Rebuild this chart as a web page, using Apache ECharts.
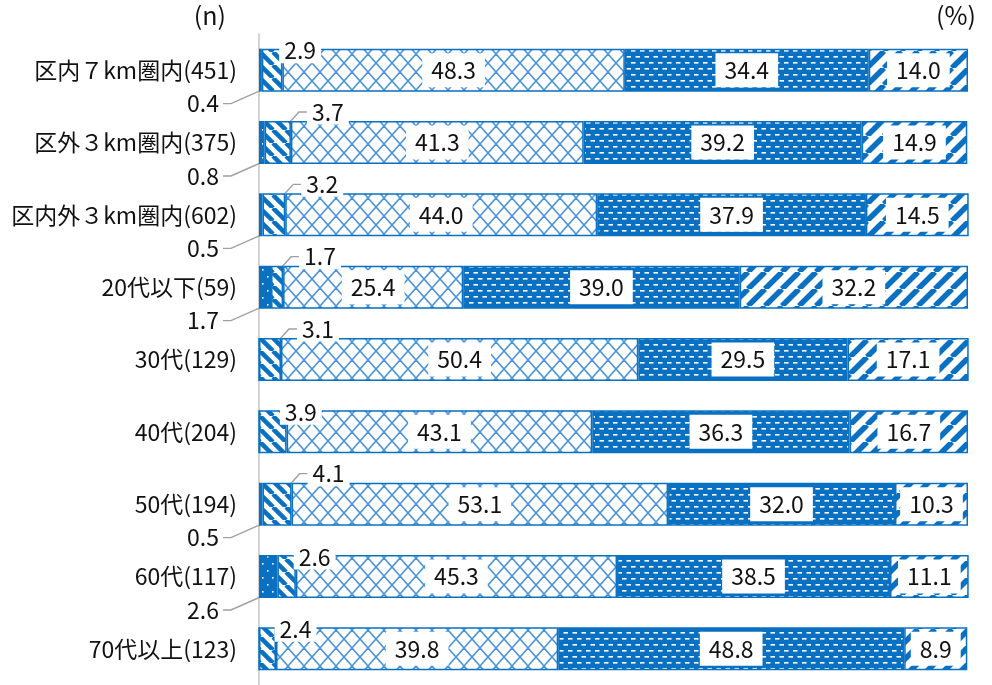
<!DOCTYPE html>
<html><head><meta charset="utf-8">
<script src="https://cdn.jsdelivr.net/npm/echarts@6/dist/echarts.min.js"></script>
<style>html,body{margin:0;padding:0;background:#fff}#c{width:992px;height:685px}</style>
</head><body><div id="c"></div>
<script>
const categories = ['区内７km圏内(451)', '区外３km圏内(375)', '区内外３km圏内(602)', '20代以下(59)', '30代(129)', '40代(204)', '50代(194)', '60代(117)', '70代以上(123)'];
const seg1 = [0.4, 0.8, 0.5, 1.7, 0, 0, 0.5, 2.6, 0];
const seg2 = [2.9, 3.7, 3.2, 1.7, 3.1, 3.9, 4.1, 2.6, 2.4];
const seg3 = [48.3, 41.3, 44.0, 25.4, 50.4, 43.1, 53.1, 45.3, 39.8];
const seg4 = [34.4, 39.2, 37.9, 39.0, 29.5, 36.3, 32.0, 38.5, 48.8];
const seg5 = [14.0, 14.9, 14.5, 32.2, 17.1, 16.7, 10.3, 11.1, 8.9];
const seriesNames = ['系列1', '系列2', '系列3', '系列4', '系列5'];
// style flags (which small labels are pulled out with a leader line)
const seg2Leader = [false, true, true, true, true, false, true, false, false];

const BLUE = '#0a70c2';
const LIGHT = '#4a93d8';
const FONT = '"Noto Sans CJK JP", "Noto Sans", sans-serif';

function tile(w, h, draw) {
  const c = document.createElement('canvas');
  c.width = w; c.height = h;
  const ctx = c.getContext('2d');
  draw(ctx, w, h);
  return { image: c, repeat: 'repeat' };
}
const patDots = tile(10, 14, (ctx, w, h) => {
  ctx.fillStyle = BLUE; ctx.fillRect(0, 0, w, h);
  ctx.fillStyle = '#fff';
  ctx.fillRect(2, 3, 1.6, 1.6); ctx.fillRect(7, 10, 1.6, 1.6);
});
const patBack = tile(13, 13, (ctx, w, h) => {
  ctx.fillStyle = '#fff'; ctx.fillRect(0, 0, w, h);
  ctx.strokeStyle = BLUE; ctx.lineWidth = 4.5;
  for (const o of [-13, 0, 13]) { ctx.beginPath(); ctx.moveTo(o, 0); ctx.lineTo(o + 13, 13); ctx.stroke(); }
});
const patCross = tile(16, 18, (ctx, w, h) => {
  ctx.fillStyle = '#fff'; ctx.fillRect(0, 0, w, h);
  ctx.strokeStyle = LIGHT; ctx.lineWidth = 1.5;
  ctx.beginPath(); ctx.moveTo(0, 0); ctx.lineTo(16, 18); ctx.stroke();
  ctx.beginPath(); ctx.moveTo(16, 0); ctx.lineTo(0, 18); ctx.stroke();
});
const patDash = tile(9, 12, (ctx, w, h) => {
  ctx.fillStyle = BLUE; ctx.fillRect(0, 0, w, h);
  ctx.fillStyle = '#fff';
  ctx.fillRect(1, 2, 4.5, 1.6);
  ctx.fillRect(5.5, 8, 4.5, 1.6); ctx.fillRect(-3.5, 8, 4.5, 1.6);
});
const patFwd = tile(17, 17, (ctx, w, h) => {
  ctx.fillStyle = '#fff'; ctx.fillRect(0, 0, w, h);
  ctx.strokeStyle = BLUE; ctx.lineWidth = 5.5;
  for (const o of [-17, 0, 17]) { ctx.beginPath(); ctx.moveTo(o, 17); ctx.lineTo(o + 17, 0); ctx.stroke(); }
});

const baseLabel = {
  show: true, color: '#111', fontSize: 23, fontFamily: FONT,
  backgroundColor: '#fff', formatter: p => (p.value > 0 ? p.value.toFixed(1) : '')
};
const lineStyle = { color: '#a0a0a0', width: 1.4 };

function bar(name, data, color, extra) {
  return Object.assign({
    name, type: 'bar', stack: 'total', barWidth: 43, data,
    itemStyle: { color, borderColor: BLUE, borderWidth: 1.5 },
    label: Object.assign({}, baseLabel, { position: 'inside', padding: [6, 9, 5, 9] }),
    emphasis: { disabled: true }
  }, extra || {});
}

const option = {
  animation: false,
  backgroundColor: '#fff',
  grid: { left: 259, right: 24, top: 34, height: 655 },
  xAxis: { type: 'value', min: 0, max: 100, show: false },
  yAxis: {
    type: 'category', data: categories, inverse: true,
    axisLine: { show: true, lineStyle: { color: '#c4c4c4', width: 1.5 } },
    axisTick: { show: false },
    axisLabel: { color: '#111', fontSize: 23, fontFamily: FONT, margin: 22 }
  },
  graphic: [
    { type: 'text', right: 766, top: 3, style: { text: '(n)', fontSize: 25, fontFamily: FONT, fill: '#111' } },
    { type: 'text', right: 16, top: 3, style: { text: '(%)', fontSize: 25, fontFamily: FONT, fill: '#111' } }
  ],
  series: [
    bar(seriesNames[0], seg1.map(v => ({ value: v, label: { show: v > 0 }, labelLine: { show: v > 0 } })), patDots, {
      label: Object.assign({}, baseLabel, { padding: [1, 4] }),
      labelLine: { show: true, length2: 8, lineStyle },
      labelLayout: p => ({ x: p.rect.x - 36, y: p.rect.y + p.rect.height + 12, align: 'right', verticalAlign: 'middle' })
    }),
    bar(seriesNames[1], seg2.map((v, i) => ({ value: v, labelLine: { show: seg2Leader[i] } })), patBack, {
      z: 3,
      label: Object.assign({}, baseLabel, { padding: [1, 5] }),
      labelLine: { show: true, length2: 8, lineStyle },
      labelLayout: p => seg2Leader[p.dataIndex]
        ? { x: p.rect.x + p.rect.width + 16, y: p.rect.y - 9, align: 'left', verticalAlign: 'middle' }
        : { x: p.rect.x + p.rect.width / 2 + 28, y: p.rect.y + 2, align: 'center', verticalAlign: 'middle' }
    }),
    bar(seriesNames[2], seg3, patCross),
    bar(seriesNames[3], seg4, patDash),
    bar(seriesNames[4], seg5, patFwd)
  ]
};
const chart = echarts.init(document.getElementById('c'), null, { renderer: 'canvas' });
chart.setOption(option);
</script></body></html>
